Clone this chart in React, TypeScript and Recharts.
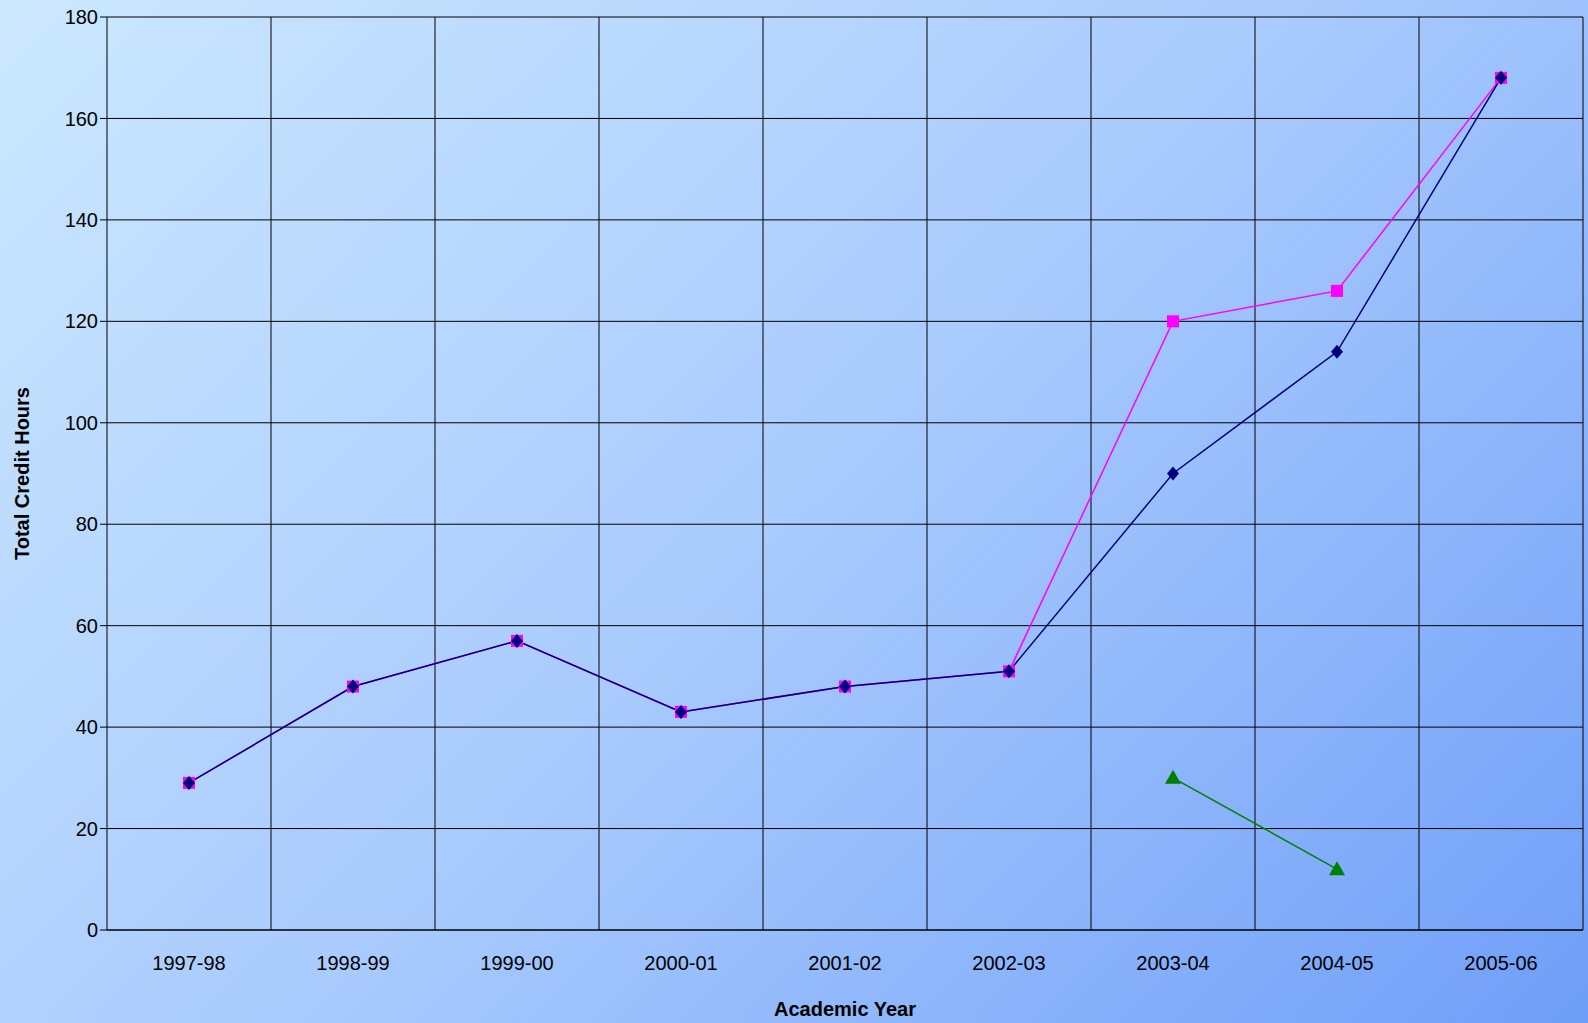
import { LineChart, Line, XAxis, YAxis, CartesianGrid } from 'recharts';

const years = ['1997-98', '1998-99', '1999-00', '2000-01', '2001-02', '2002-03', '2003-04', '2004-05', '2005-06'];
const pinkSeries = [29, 48, 57, 43, 48, 51, 120, 126, 168];
const navySeries = [29, 48, 57, 43, 48, 51, 90, 114, 168];
const greenSeries: (number | null)[] = [null, null, null, null, null, null, 30, 12, null];
const yTicks = [0, 20, 40, 60, 80, 100, 120, 140, 160, 180];

const data = years.map((year, i) => ({
  year,
  pink: pinkSeries[i],
  navy: navySeries[i],
  green: greenSeries[i],
}));

const Square = (p: any) =>
  p.cx == null || p.value == null ? null : (
    <rect x={p.cx - 6} y={p.cy - 6} width={12} height={12} fill="#ff00ff" />
  );
const Diamond = (p: any) =>
  p.cx == null || p.value == null ? null : (
    <path d={`M${p.cx},${p.cy - 7}L${p.cx + 6},${p.cy}L${p.cx},${p.cy + 7}L${p.cx - 6},${p.cy}Z`} fill="#000080" />
  );
const Triangle = (p: any) =>
  p.cx == null || p.value == null ? null : (
    <path d={`M${p.cx},${p.cy - 8}L${p.cx + 8},${p.cy + 6}L${p.cx - 8},${p.cy + 6}Z`} fill="#008000" />
  );

export default function App() {
  return (
    <div
      style={{
        position: 'absolute',
        left: 0,
        top: 0,
        width: 1588,
        height: 1023,
        background: 'linear-gradient(135deg, #cbe8ff 0%, #a9cbfd 50%, #6f9ef8 100%)',
        fontFamily: '"Liberation Sans", Arial, sans-serif',
      }}
    >
      <LineChart width={1588} height={1023} data={data} margin={{ top: 17, right: 5, bottom: 33, left: 0 }}>
        <CartesianGrid
          stroke="#000"
          strokeWidth={1}
          verticalCoordinatesGenerator={({ offset }: any) =>
            years.map((_, i) => offset.left + ((i + 1) * offset.width) / years.length)
          }
        />
        <XAxis
          dataKey="year"
          scale="band"
          stroke="#000"
          tickLine={false}
          tick={{ fill: '#000', fontSize: 20 }}
          tickMargin={20}
          height={60}
          label={{ value: 'Academic Year', position: 'insideBottom', offset: -26, fill: '#000', fontSize: 20, fontWeight: 'bold' }}
        />
        <YAxis
          domain={[0, 180]}
          ticks={yTicks}
          stroke="#000"
          tickSize={7}
          tick={{ fill: '#000', fontSize: 20 }}
          width={107}
          label={{ value: 'Total Credit Hours', angle: -90, position: 'insideLeft', offset: 22, fill: '#000', fontSize: 20, fontWeight: 'bold', style: { textAnchor: 'middle' } }}
        />
        <Line dataKey="pink" stroke="#ff00ff" strokeWidth={1.5} dot={<Square />} isAnimationActive={false} />
        <Line dataKey="navy" stroke="#000080" strokeWidth={1.5} dot={<Diamond />} isAnimationActive={false} />
        <Line dataKey="green" stroke="#008000" strokeWidth={1.5} dot={<Triangle />} isAnimationActive={false} />
      </LineChart>
    </div>
  );
}
